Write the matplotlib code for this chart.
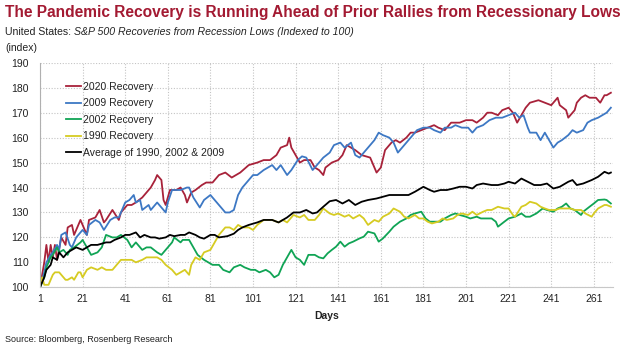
import matplotlib.pyplot as plt

# S&P 500 recoveries from recession lows, indexed to 100 on day 1
days_2020 = [1, 3, 4, 5, 6, 7, 8, 9, 11, 13, 14, 16, 17, 20, 21, 23, 24, 27, 29, 31, 32, 35, 38, 39,
             42, 44, 46, 49, 53, 55, 56, 58, 59, 60, 62, 65, 67, 69, 70, 72, 74, 77, 79, 82, 85, 88,
             91, 95, 99, 103, 106, 109, 112, 114, 117, 118, 119, 121, 123, 125, 128, 130, 132, 134,
             135, 138, 141, 143, 145, 147, 149, 152, 156, 158, 159, 161, 163, 166, 168, 170, 173,
             175, 177, 180, 183, 186, 188, 191, 194, 198, 201, 204, 206, 209, 211, 213, 216, 218,
             221, 223, 225, 227, 229, 231, 235, 238, 241, 244, 245, 248, 249, 252, 253, 255, 257,
             259, 262, 264, 266, 267, 269]
rec_2020 = [100, 110, 117, 110, 117, 112, 117, 111, 120, 117, 124, 125, 121, 127, 125, 121, 127, 128,
            131, 126, 127, 131, 127, 130, 133, 133, 134, 136, 140, 143, 145, 143, 135, 133, 139, 139,
            140, 137, 134, 138, 139, 141, 142, 142, 145, 146, 144, 146, 149, 150, 151, 151, 153, 156,
            157, 160, 156, 153, 150, 151, 151, 148, 147, 145, 148, 150, 151, 153, 157, 156, 155, 153,
            152, 148, 146, 148, 155, 158, 159, 158, 160, 162, 162, 163, 164, 165, 164, 163, 166, 166,
            167, 167, 166, 168, 170, 170, 169, 171, 172, 170, 166, 169, 172, 174, 175, 174, 173, 176,
            173, 171, 168, 171, 174, 176, 177, 176, 176, 174, 177, 177, 178]

days_2009 = [1, 3, 4, 6, 7, 9, 10, 11, 13, 15, 16, 18, 21, 23, 24, 27, 29, 31, 34, 36, 38, 41, 43, 45,
             46, 48, 49, 52, 53, 56, 57, 60, 61, 63, 65, 67, 70, 71, 73, 76, 78, 81, 83, 85, 88, 90,
             92, 94, 96, 99, 101, 103, 106, 108, 110, 112, 114, 117, 119, 122, 124, 126, 129, 131,
             134, 137, 139, 142, 144, 147, 149, 151, 153, 155, 158, 160, 162, 165, 167, 169, 171,
             173, 176, 178, 181, 184, 186, 189, 191, 194, 196, 199, 202, 204, 206, 209, 212, 215,
             218, 221, 224, 226, 228, 230, 231, 234, 236, 238, 240, 242, 244, 246, 249, 251, 253,
             256, 258, 260, 263, 265, 267, 269]
rec_2009 = [100, 106, 110, 113, 114, 117, 115, 121, 122, 117, 116, 120, 123, 121, 125, 127, 126, 123,
            127, 128, 128, 134, 135, 137, 134, 135, 131, 133, 131, 134, 133, 130, 134, 139, 139, 139,
            140, 140, 136, 132, 135, 137, 135, 133, 130, 130, 131, 137, 140, 143, 145, 145, 147, 148,
            149, 147, 149, 145, 147, 151, 152.5, 152, 147, 149, 152, 154, 157, 158, 156, 158, 153,
            152, 154, 156, 159, 162, 161, 160, 158, 154, 156, 158, 161, 163, 164, 164, 163, 162, 164,
            164, 165, 164, 164, 162, 164, 165, 167, 168, 168, 169, 170, 168, 169, 164, 162, 162, 159,
            162, 159, 156, 158, 159, 161, 163, 162, 163, 166, 167, 168, 169, 170, 172]

days_2002 = [1, 3, 4, 6, 7, 9, 10, 12, 14, 15, 17, 20, 21, 23, 25, 28, 30, 32, 35, 37, 39, 42, 44, 46,
             49, 51, 53, 56, 58, 60, 63, 64, 67, 68, 71, 73, 75, 78, 80, 82, 85, 87, 90, 92, 95, 97,
             100, 102, 104, 107, 109, 111, 113, 115, 117, 119, 121, 123, 125, 127, 130, 132, 134,
             136, 138, 140, 142, 144, 146, 148, 151, 153, 155, 158, 160, 162, 165, 167, 170, 173,
             175, 177, 180, 182, 184, 187, 189, 191, 194, 196, 198, 201, 203, 206, 208, 210, 213,
             215, 216, 219, 221, 224, 227, 229, 231, 234, 237, 239, 242, 244, 246, 248, 250, 252,
             255, 256, 259, 261, 263, 266, 267, 269]
rec_2002 = [100, 104, 108, 112, 113, 116, 114, 115, 113, 115, 116, 118, 119, 116, 113, 114, 116, 121,
            120, 120, 121, 119, 116, 118, 115, 116, 116, 114, 113, 115, 118, 120, 118, 119, 119, 116,
            113, 111, 110, 109, 109, 107, 106, 108, 109, 108, 107, 107, 106, 107, 106, 104, 105, 109,
            112, 115, 112, 111, 109, 113, 113, 112, 111.6, 113.6, 115, 116.3, 118.3, 116.3, 117.6,
            118.3, 119.6, 120.3, 122.3, 121.6, 118.3, 119.6, 122.3, 124.3, 126.3, 127.6, 129, 129.6,
            130.3, 127.6, 126.3, 126.3, 126.3, 127.6, 129, 129.6, 129, 128.3, 127.6, 128.3, 127.6,
            127.6, 127.6, 126.3, 124.3, 126.3, 127.6, 128.3, 129.6, 128.3, 128.3, 129.6, 131.6, 131,
            130.3, 131.6, 132.3, 133.6, 131.6, 131, 129, 130.3, 132.3, 133.6, 135, 135.2, 135, 133.6]

days_1990 = [1, 2, 3, 5, 7, 8, 10, 11, 13, 14, 16, 17, 19, 20, 21, 23, 25, 28, 30, 32, 35, 37, 39, 42,
             44, 46, 49, 51, 53, 56, 58, 60, 63, 65, 67, 69, 71, 72, 74, 76, 78, 81, 83, 85, 88, 90,
             92, 94, 96, 99, 101, 103, 106, 108, 110, 113, 115, 117, 120, 123, 125, 127, 130, 132,
             134, 137, 139, 141, 144, 146, 148, 151, 153, 155, 158, 160, 162, 165, 167, 170, 172,
             174, 177, 179, 181, 183, 185, 188, 190, 192, 195, 197, 199, 202, 204, 206, 209, 211,
             213, 216, 219, 221, 223, 224, 227, 229, 231, 234, 236, 238, 240, 243, 245, 248, 250,
             252, 255, 257, 260, 261, 263, 266, 267, 269]
rec_1990 = [100, 104, 101, 101, 105, 106, 106, 105, 103, 103, 104, 103, 106, 106, 104, 107, 108, 107,
            108, 107, 107, 109, 111, 111, 111, 110, 111, 112, 112, 112, 111, 109, 107, 105, 106, 107,
            105, 109, 112, 111, 114, 115, 118, 121, 124, 124, 123, 125, 124, 124, 123, 125, 127, 127,
            127, 126, 127, 126, 129, 128, 129, 127, 127, 129, 131.6, 129.6, 129, 129.6, 128.3, 129,
            127.6, 129, 127.6, 125, 127, 126.3, 128.3, 129.6, 131.6, 130.3, 128.3, 127.6, 129, 127.6,
            127.6, 126.3, 125.6, 126.3, 127.6, 127, 127.6, 129, 129.6, 129, 130.3, 129, 130.3, 131,
            131, 132.3, 131.6, 131.6, 129, 128.3, 132.3, 133, 134.3, 133.6, 132.3, 131.6, 131, 131,
            131.6, 131.6, 131.6, 131, 131, 129.6, 128.3, 129.6, 131.6, 133, 133, 132.3]

days_avg = [1, 3, 4, 6, 7, 9, 10, 12, 14, 16, 18, 21, 23, 25, 28, 32, 34, 36, 39, 41, 43, 46, 48, 50,
            53, 55, 57, 60, 62, 64, 67, 69, 71, 74, 76, 78, 81, 83, 85, 89, 92, 94, 96, 99, 101, 103,
            106, 108, 110, 113, 115, 117, 120, 123, 126, 129, 131, 134, 137, 140, 143, 146, 149, 152,
            155, 159, 162, 165, 168, 171, 174, 177, 181, 184, 186, 189, 192, 195, 198, 201, 204,
            206, 209, 213, 216, 219, 221, 224, 227, 230, 233, 236, 239, 242, 245, 249, 251, 253,
            256, 260, 263, 266, 268, 269]
rec_avg = [100, 104, 107, 109, 112, 111, 114, 112, 114, 115, 116, 115, 116, 117, 117, 118, 118, 119,
           120, 121, 121, 122, 120, 121, 120, 120, 119.5, 120, 121, 120.5, 121, 121, 122, 121, 120,
           119.5, 121, 121, 120, 120.5, 121.5, 123, 124, 125, 125.5, 126, 127, 127, 127, 126, 127,
           128, 130, 130, 131, 129.6, 130, 132.3, 134.5, 135, 133.6, 135, 133, 134.3, 135, 135.6,
           136.3, 137, 137, 137, 137, 138.3, 140.3, 139, 138.3, 139, 139, 139.6, 140.3, 140.3, 139.6,
           141, 141.6, 141, 141, 141.6, 142.3, 141.6, 143.6, 142.3, 141, 141, 141.6, 139.6, 140.3,
           142.3, 143, 141, 141.6, 143, 144.3, 146.3, 145.6, 146]

labels = ["2020 Recovery", "2009 Recovery", "2002 Recovery", "1990 Recovery",
          "Average of 1990, 2002 & 2009"]
colors = ["#A8223A", "#3D78C4", "#10A455", "#D6CB22", "#000000"]
x_ticks = list(range(1, 262, 20))
y_ticks = list(range(100, 191, 10))

plt.rcParams['font.family'] = ['Liberation Sans', 'DejaVu Sans']
text_col = "#222222"

fig = plt.figure(figsize=(6.3, 3.48), dpi=100)
ax = fig.add_axes([40 / 630, 1 - 287.3 / 348, 573 / 630, 224.5 / 348])

series = [(days_2020, rec_2020), (days_2009, rec_2009), (days_2002, rec_2002),
          (days_1990, rec_1990), (days_avg, rec_avg)]
handles = []
for (d, v), lab, c in zip(series, labels, colors):
    h, = ax.plot(d, v, color=c, lw=1.3, label=lab, solid_joinstyle='round')
    handles.append(h)

ax.set_xlim(1, 270)
ax.set_ylim(100, 190)
ax.set_xticks(x_ticks)
ax.set_yticks(y_ticks)
ax.tick_params(length=0, labelsize=7.5, colors=text_col)
ax.tick_params(axis='y', pad=8)
ax.tick_params(axis='x', pad=5)
ax.grid(color="#c4c4c4", linestyle=(0, (1, 1.5)), lw=0.8)
for s in ["top", "right"]:
    ax.spines[s].set_visible(False)
ax.spines["left"].set_color("#b0b0b0")
ax.spines["bottom"].set_color("#c8c8c8")
ax.set_xlabel("Days", fontsize=7.5, fontweight="bold", color=text_col, labelpad=5)

ax.legend(handles=handles, loc="upper left", bbox_to_anchor=(0.045, 0.915),
          frameon=False, fontsize=7.5, handlelength=1.5, handletextpad=0.15,
          labelspacing=0.62, borderpad=0, borderaxespad=0, labelcolor=text_col)

title = fig.text(5 / 630, 1 - 12 / 348,
                 "The Pandemic Recovery is Running Ahead of Prior Rallies from Recessionary Lows",
                 fontsize=13, fontweight="bold", color="#A31A32", va="center")
# shrink the headline until it spans the figure width
renderer = fig.canvas.get_renderer()
w = title.get_window_extent(renderer).width
title.set_fontsize(13 * 618 / w)

t1 = fig.text(5 / 630, 1 - 32 / 348, "United States: ", fontsize=7.6, color=text_col,
              va="center")
ax.annotate("S&P 500 Recoveries from Recession Lows (Indexed to 100)", xy=(1, 0.5),
            xycoords=t1, va="center", fontsize=7.6, style="italic", color=text_col,
            annotation_clip=False)
fig.text(5 / 630, 1 - 48 / 348, "(index)", fontsize=7.5, color=text_col, va="center")
fig.text(5 / 630, 1 - 340 / 348, "Source: Bloomberg, Rosenberg Research", fontsize=6.5,
         color=text_col, va="center")

plt.savefig("out.png", dpi=100)
